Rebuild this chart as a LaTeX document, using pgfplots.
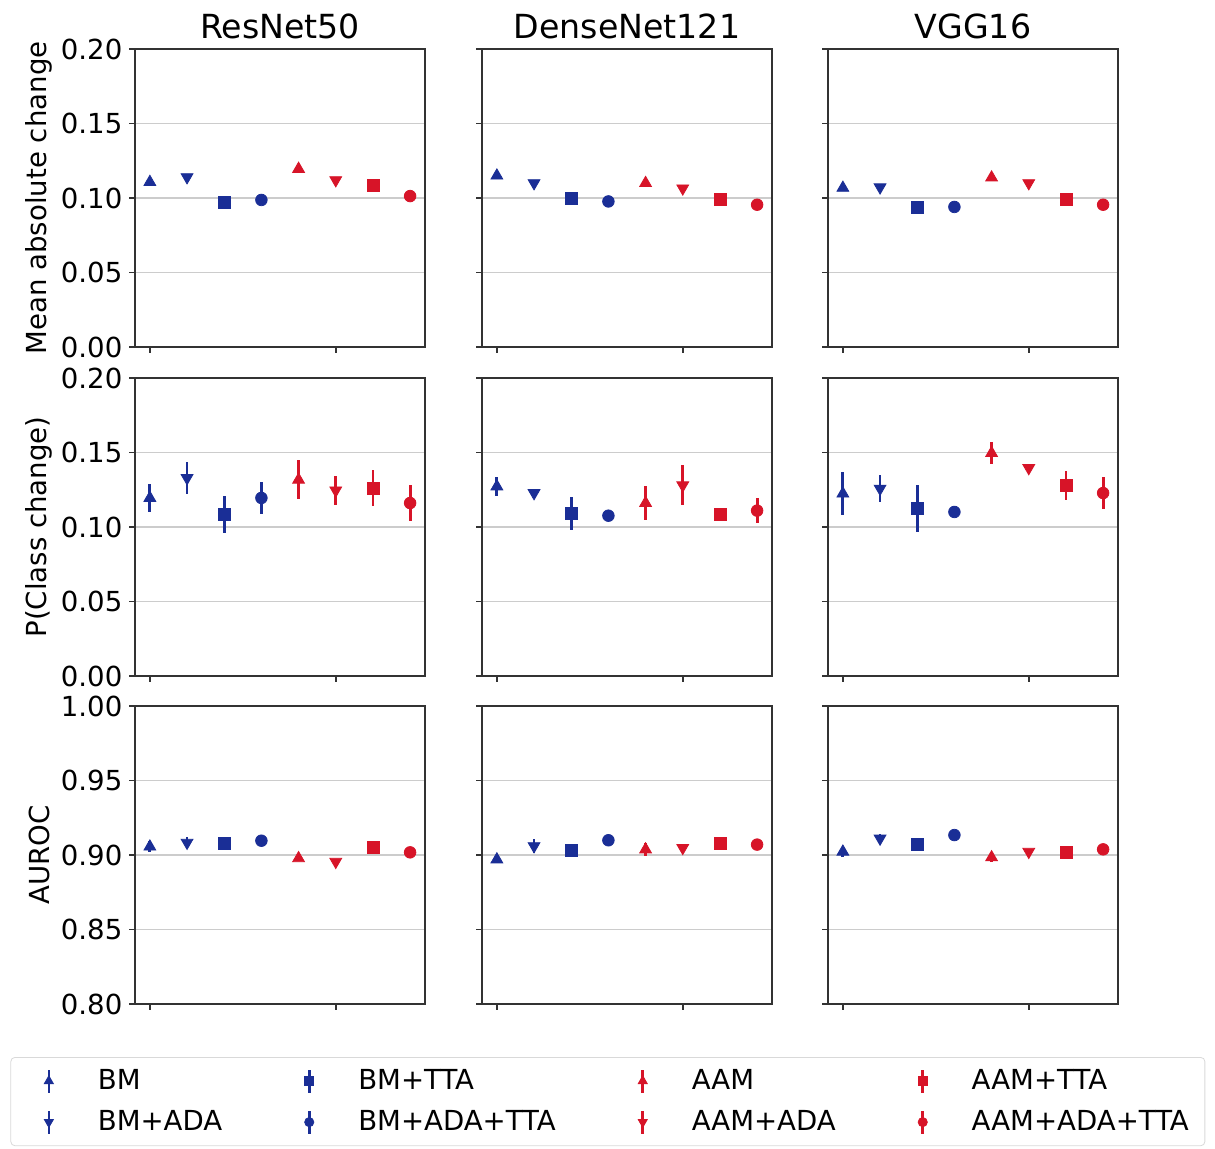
\documentclass[border=0pt]{standalone}
\usepackage{pgfplots}
\pgfplotsset{compat=1.18}
\usepackage{pgfplotstable}
\usepackage{fontspec}
\setmainfont{DejaVu Sans}
\definecolor{bblue}{RGB}{26,46,150}
\definecolor{rred}{RGB}{215,20,40}
\newcommand\tickfont{\fontsize{13.8}{16}\selectfont}
\newcommand\titlefont{\fontsize{16.6}{19}\selectfont}

% Row 1: mean absolute change
\pgfplotstableread{
x y e
0 0.1107 0.001
1 0.1140 0.001
2 0.0973 0.001
3 0.0987 0.001
4 0.1195 0.001
5 0.1120 0.001
6 0.1087 0.001
7 0.1013 0.001
}\tAa
\pgfplotstableread{
x y e
0 0.1150 0.001
1 0.1100 0.001
2 0.1000 0.001
3 0.0977 0.001
4 0.1100 0.001
5 0.1065 0.001
6 0.0988 0.001
7 0.0955 0.001
}\tAb
\pgfplotstableread{
x y e
0 0.1068 0.001
1 0.1072 0.001
2 0.0940 0.001
3 0.0940 0.001
4 0.1137 0.001
5 0.1100 0.001
6 0.0988 0.001
7 0.0955 0.001
}\tAc
% Row 2: P(Class change)
\pgfplotstableread{
x y e
0 0.1195 0.0095
1 0.1329 0.0110
2 0.1083 0.0123
3 0.1195 0.0105
4 0.1317 0.0130
5 0.1246 0.0097
6 0.1262 0.0123
7 0.1161 0.0120
}\tBa
\pgfplotstableread{
x y e
0 0.1272 0.0067
1 0.1228 0.0020
2 0.1089 0.0110
3 0.1076 0.0020
4 0.1161 0.0117
5 0.1280 0.0134
6 0.1083 0.0020
7 0.1110 0.0084
}\tBb
\pgfplotstableread{
x y e
0 0.1224 0.0145
1 0.1258 0.0093
2 0.1124 0.0157
3 0.1101 0.0020
4 0.1496 0.0075
5 0.1396 0.0020
6 0.1277 0.0097
7 0.1228 0.0110
}\tBc
% Row 3: AUROC
\pgfplotstableread{
x y e
0 0.9056 0.0035
1 0.9083 0.0035
2 0.9079 0.0020
3 0.9096 0.0020
4 0.8978 0.0020
5 0.8955 0.0020
6 0.9052 0.0030
7 0.9018 0.0010
}\tCa
\pgfplotstableread{
x y e
0 0.8970 0.0025
1 0.9060 0.0045
2 0.9032 0.0015
3 0.9099 0.0035
4 0.9037 0.0045
5 0.9048 0.0015
6 0.9080 0.0020
7 0.9070 0.0020
}\tCb
\pgfplotstableread{
x y e
0 0.9022 0.0035
1 0.9111 0.0030
2 0.9074 0.0040
3 0.9134 0.0020
4 0.8984 0.0030
5 0.9022 0.0015
6 0.9015 0.0020
7 0.9038 0.0015
}\tCc

\pgfplotsset{
  panel/.style={width=145pt, height=149pt, scale only axis,
    xmin=-0.4, xmax=7.4, xtick={0,5}, xticklabels={},
    ymajorgrids, major grid style={black!20, line width=0.55pt},
    tick align=outside, tick pos=left, major tick length=2.8pt,
    axis line style={black!80, line width=0.8pt},
    tick style={black!80, line width=0.8pt},
    ticklabel style={font=\tickfont},
    title style={font=\titlefont, anchor=base, yshift=-0.5pt},
    every axis y label/.style={at={(axis description cs:-0.33,0.5)}, rotate=90, anchor=center, font=\tickfont},
    /pgf/number format/assume math mode=true,
    yticklabel style={/pgf/number format/.cd, fixed, fixed zerofill, precision=2},
    axis background/.style={fill=white}},
  rowA/.style={ymin=0, ymax=0.2, ytick={0,0.05,0.1,0.15,0.2}},
  rowB/.style={ymin=0, ymax=0.2, ytick={0,0.05,0.1,0.15,0.2}},
  rowC/.style={ymin=0.8, ymax=1.0, ytick={0.8,0.85,0.9,0.95,1.0}},
  eb/.style={only marks, forget plot, error bars/.cd, y dir=both, y explicit, error mark=none,
    error bar style={line width=1.4pt}},
  mkup/.style={mark=triangle*, mark size=3.4pt},
  mkdn/.style={mark=triangle*, mark size=3.4pt, mark options={rotate=180}},
  mksq/.style={mark=square*, mark size=3pt},
  mkci/.style={mark=*, mark size=2.9pt},
  legimg/.style={only marks, legend image code/.code={%
      \draw[##1, line width=1.3pt, mark=none] (13pt,-5.75pt) -- (13pt,5.75pt);
      \draw[##1] plot coordinates {(13pt,0pt)};
      \path[draw=none, fill=none] (0pt,0pt) rectangle (35.5pt,0.1pt);}},
}
\newcommand\panel[1]{%
  \addplot[bblue, mkup, eb] table[x=x, y=y, y error=e, restrict x to domain=-0.5:0.5] {#1};
  \addplot[bblue, mkdn, eb] table[x=x, y=y, y error=e, restrict x to domain=0.5:1.5] {#1};
  \addplot[bblue, mksq, eb] table[x=x, y=y, y error=e, restrict x to domain=1.5:2.5] {#1};
  \addplot[bblue, mkci, eb] table[x=x, y=y, y error=e, restrict x to domain=2.5:3.5] {#1};
  \addplot[rred, mkup, eb] table[x=x, y=y, y error=e, restrict x to domain=3.5:4.5] {#1};
  \addplot[rred, mkdn, eb] table[x=x, y=y, y error=e, restrict x to domain=4.5:5.5] {#1};
  \addplot[rred, mksq, eb] table[x=x, y=y, y error=e, restrict x to domain=5.5:6.5] {#1};
  \addplot[rred, mkci, eb] table[x=x, y=y, y error=e, restrict x to domain=6.5:7.5] {#1};
}

\begin{document}
\begin{tikzpicture}
\path (0,0) rectangle (607.5pt,-574pt);
% Row 1
\begin{axis}[panel, rowA, at={(67.5pt,-24.5pt)}, anchor=north west,
  title={ResNet50}, ylabel={Mean absolute change}]
\panel{\tAa}
\end{axis}
\begin{axis}[panel, rowA, at={(241pt,-24.5pt)}, anchor=north west,
  title={DenseNet121}, yticklabels={}]
\panel{\tAb}
\end{axis}
\begin{axis}[panel, rowA, at={(414pt,-24.5pt)}, anchor=north west,
  title={VGG16}, yticklabels={}]
\panel{\tAc}
\end{axis}
% Row 2
\begin{axis}[panel, rowB, at={(67.5pt,-189pt)}, anchor=north west,
  ylabel={P(Class change)}]
\panel{\tBa}
\end{axis}
\begin{axis}[panel, rowB, at={(241pt,-189pt)}, anchor=north west, yticklabels={}]
\panel{\tBb}
\end{axis}
\begin{axis}[panel, rowB, at={(414pt,-189pt)}, anchor=north west, yticklabels={}]
\panel{\tBc}
\end{axis}
% Row 3
\begin{axis}[panel, rowC, at={(67.5pt,-353pt)}, anchor=north west,
  ylabel={AUROC}]
\panel{\tCa}
\end{axis}
\begin{axis}[panel, rowC, at={(241pt,-353pt)}, anchor=north west, yticklabels={},
  legend columns=4, legend cell align=left,
  legend style={at={(0.434,-0.178)}, anchor=north, draw=black!15, rounded corners=2pt,
    fill=white, font=\tickfont, inner xsep=6pt, inner ysep=4pt, row sep=5pt,
    /tikz/every even column/.append style={column sep=28.5pt}}]
\panel{\tCb}
\addlegendimage{bblue, mkup, mark size=2.6pt, legimg}
\addlegendentry{BM}
\addlegendimage{bblue, mksq, mark size=2.3pt, legimg}
\addlegendentry{BM+TTA}
\addlegendimage{rred, mkup, mark size=2.6pt, legimg}
\addlegendentry{AAM}
\addlegendimage{rred, mksq, mark size=2.3pt, legimg}
\addlegendentry{AAM+TTA}
\addlegendimage{bblue, mkdn, mark size=2.6pt, legimg}
\addlegendentry{BM+ADA}
\addlegendimage{bblue, mkci, mark size=2.3pt, legimg}
\addlegendentry{BM+ADA+TTA}
\addlegendimage{rred, mkdn, mark size=2.6pt, legimg}
\addlegendentry{AAM+ADA}
\addlegendimage{rred, mkci, mark size=2.3pt, legimg}
\addlegendentry{AAM+ADA+TTA}
\end{axis}
\begin{axis}[panel, rowC, at={(414pt,-353pt)}, anchor=north west, yticklabels={}]
\panel{\tCc}
\end{axis}
\end{tikzpicture}
\end{document}
